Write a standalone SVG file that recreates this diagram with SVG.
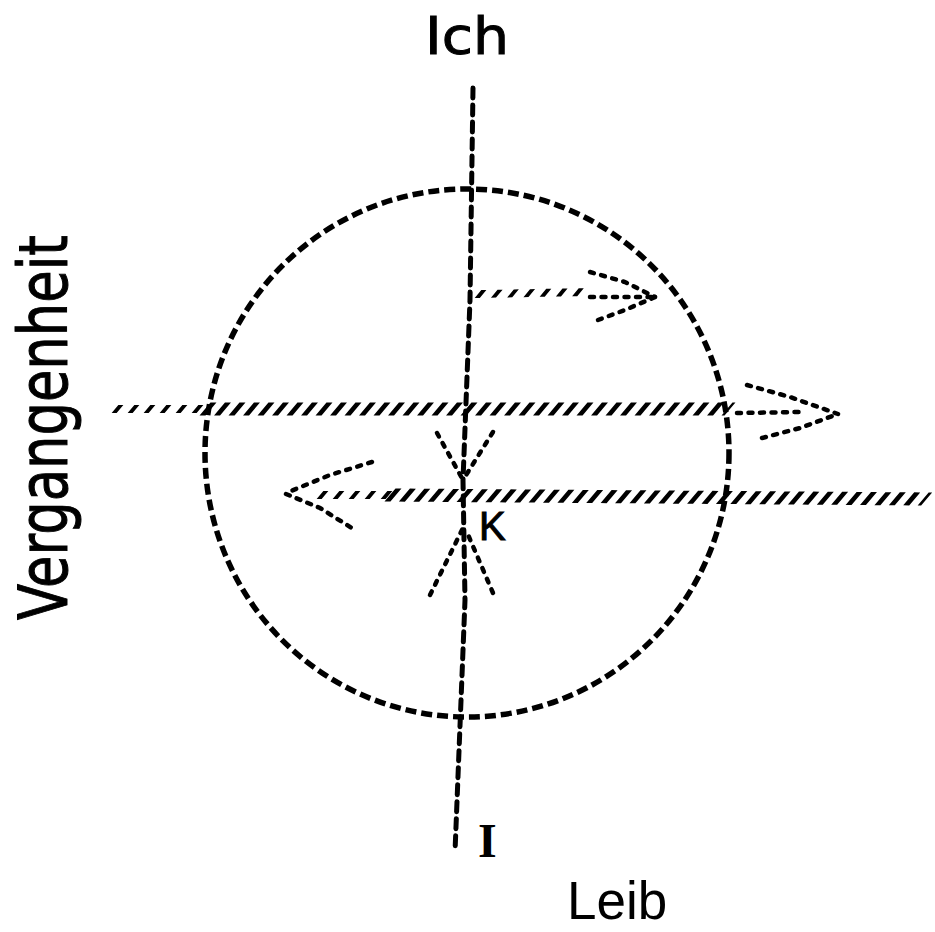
<svg xmlns="http://www.w3.org/2000/svg" width="935" height="932" viewBox="0 0 935 932">
<style>
  .dash { fill:none; stroke:#000; stroke-width:5.5; stroke-dasharray:11 5; }
  .vdash { fill:none; stroke:#000; stroke-width:5; stroke-dasharray:10 7; stroke-linecap:round; }
  .hatch { fill:none; stroke:#000; stroke-width:13; stroke-dasharray:6 8.5; }
  .hatch-s { fill:none; stroke:#000; stroke-width:8; stroke-dasharray:5 11; }
  .dots { fill:none; stroke:#000; stroke-width:4.5; stroke-dasharray:4 7.5; stroke-linecap:round; }
  .lbl { font-family:"DejaVu Sans","Liberation Sans",sans-serif; fill:#000; stroke:#000; stroke-width:1; }
</style>
<rect width="935" height="932" fill="#fff"/>
<g id="connectors">
  <!-- circle -->
  <ellipse cx="467" cy="453" rx="262" ry="264" class="dash"/>
  <!-- vertical axis -->
  <polyline points="473,88 470,300 463,480 465,600 455,852" class="vdash"/>
  <!-- upper horizontal line -->
  <g transform="translate(0,409) skewX(-40)">
    <line x1="115" y1="0" x2="205" y2="0" class="hatch-s"/>
    <line x1="205" y1="0" x2="730" y2="0" class="hatch"/>
  </g>
  <!-- upper right arrow outside circle -->
  <polyline points="737,413 800,412" class="dots"/>
  <polyline points="747,385 790,397 838,414" class="dots"/>
  <polyline points="762,438 800,428 838,414" class="dots"/>
  <!-- lower horizontal line -->
  <g transform="translate(0,495) skewX(-40)">
    <line x1="320" y1="0" x2="390" y2="0" class="hatch-s"/>
    <line x1="390" y1="0" x2="930" y2="4" class="hatch"/>
  </g>
  <!-- left arrowhead on lower line -->
  <polyline points="372,462 330,475 286,493" class="dots"/>
  <polyline points="286,494 320,508 355,530" class="dots"/>
  <!-- inner upper arrow -->
  <g transform="translate(0,294) skewX(-40)">
    <line x1="478" y1="0" x2="590" y2="-2" class="hatch-s"/>
  </g>
  <polyline points="590,297 655,297" class="dots"/>
  <polyline points="590,272 625,282 655,297" class="dots"/>
  <polyline points="598,320 625,310 655,297" class="dots"/>
  <!-- converging arrow above K -->
  <polyline points="437,433 463,480" class="dots"/>
  <polyline points="493,432 463,480" class="dots"/>
  <!-- converging arrow below K -->
  <polyline points="430,595 463,528" class="dots"/>
  <polyline points="493,593 466,530" class="dots"/>
</g>
<g id="ich"><text class="lbl" x="425" y="54" font-size="52" textLength="84" lengthAdjust="spacingAndGlyphs">Ich</text></g>
<g id="vergangenheit"><text class="lbl" transform="translate(67,620) rotate(-90)" x="0" y="0" font-size="68" textLength="385" lengthAdjust="spacingAndGlyphs">Vergangenheit</text></g>
<g id="k"><text x="479" y="540" font-size="40" font-family="Liberation Sans" stroke="#000" stroke-width="1">K</text></g>
<g id="i"><text x="478" y="857" font-size="48" font-family="Liberation Serif" font-weight="bold">I</text></g>
<g id="leib"><text x="567" y="919" font-size="53" font-family="Liberation Sans">Leib</text></g>
</svg>
